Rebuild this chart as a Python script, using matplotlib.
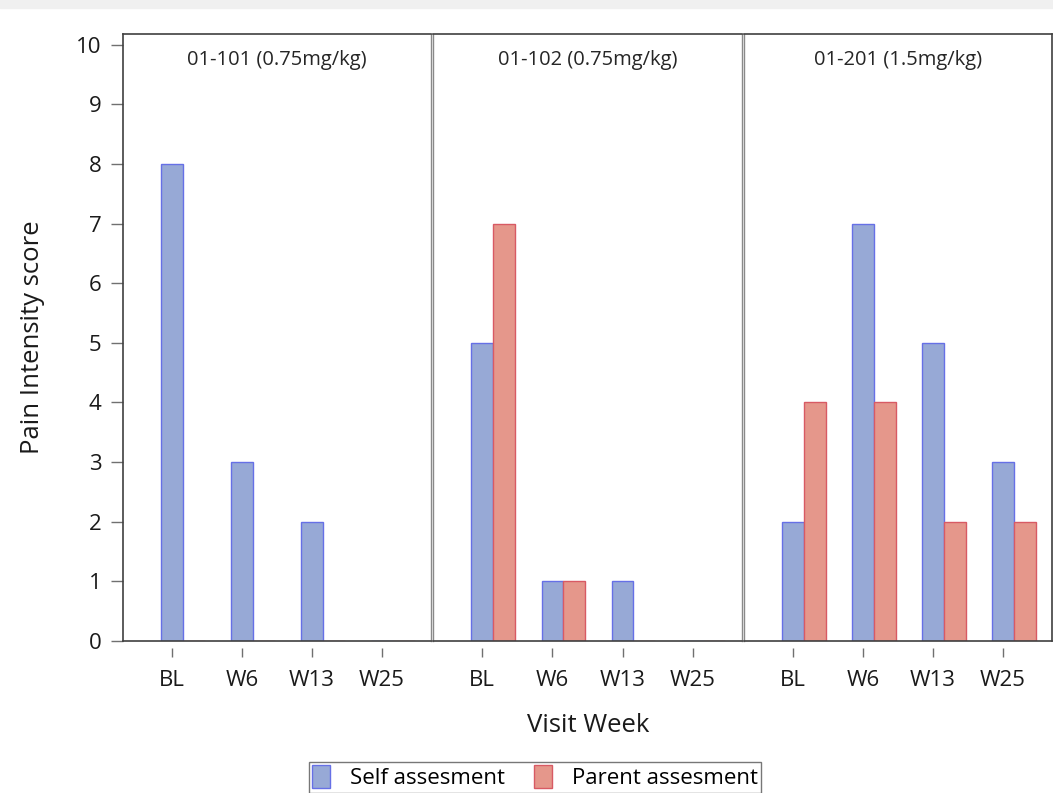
import matplotlib
matplotlib.use("Agg")
import matplotlib.pyplot as plt
from matplotlib.patches import Rectangle, Patch

plt.rcParams["font.family"] = ["Open Sans", "DejaVu Sans"]

# dados
visits = ["BL", "W6", "W13", "W25"]
patients = ["01-101 (0.75mg/kg)", "01-102 (0.75mg/kg)", "01-201 (1.5mg/kg)"]
self_scores = [[8, 3, 2, 0], [5, 1, 1, 0], [2, 7, 5, 3]]
parent_scores = [[0, 0, 0, 0], [7, 1, 0, 0], [4, 4, 2, 2]]

self_fill, self_edge = "#97A9D6", "#6670E6"
parent_fill, parent_edge = "#E5978B", "#D85A64"

W, H = 1053, 793
fig = plt.figure(figsize=(W / 100, H / 100), dpi=100)

# faixa cinza no topo
fig.patches.append(Rectangle((0, 1 - 8 / H), 1, 8 / H, transform=fig.transFigure,
                             color="#F0F0F0", zorder=0))

lefts = [123, 433, 744]
rights = [431, 742, 1052]
top, bottom = 34, 641
bw = 0.31

for k in range(3):
    ax = fig.add_axes([lefts[k] / W, 1 - bottom / H,
                       (rights[k] - lefts[k]) / W, (bottom - top) / H])
    x = range(len(visits))
    ax.bar(x, self_scores[k], width=bw, color=self_fill, edgecolor=self_edge,
           linewidth=1.0, zorder=2)
    ax.bar([i + bw for i in x], parent_scores[k], width=bw, color=parent_fill,
           edgecolor=parent_edge, linewidth=1.0, zorder=2)
    ax.set_xlim(-0.7, 3.7)
    ax.set_ylim(0, 10.18)
    for s in ax.spines.values():
        s.set_color("#404040")
        s.set_linewidth(1.2)
    # bordas internas entre paineis mais claras
    if k > 0:
        ax.spines["left"].set_color("#8A8A8A")
        ax.spines["left"].set_linewidth(1.0)
    if k < 2:
        ax.spines["right"].set_color("#8A8A8A")
        ax.spines["right"].set_linewidth(1.0)
    ax.set_xticks([])
    ax.text(0.5, 0.974, patients[k], transform=ax.transAxes, ha="center",
            va="top", fontsize=14.5, color="#262626")

    # eixo x separado, abaixo do painel
    sec = ax.secondary_xaxis(-0.0115)
    sec.spines["bottom"].set_visible(False)
    sec.set_xticks(list(x))
    sec.set_xticklabels(visits)
    sec.tick_params(axis="x", direction="out", length=6.5, width=1,
                    color="#707070", pad=9.5, labelsize=16, labelcolor="#1A1A1A")

    if k == 0:
        ax.set_yticks(range(0, 11))
        ax.tick_params(axis="y", direction="out", length=8.6, width=1,
                       color="#707070", pad=7, labelsize=16, labelcolor="#1A1A1A")
    else:
        ax.set_yticks([])

fig.text(588 / W, 1 - 725 / H, "Visit Week", ha="center", va="center",
         fontsize=18.5, color="#1A1A1A")
fig.text(33 / W, 1 - 337 / H, "Pain Intensity score", ha="center", va="center",
         rotation=90, fontsize=18.5, color="#1A1A1A")

handles = [Patch(facecolor=self_fill, edgecolor=self_edge, label="Self assesment"),
           Patch(facecolor=parent_fill, edgecolor=parent_edge, label="Parent assesment")]
leg = fig.legend(handles=handles, loc="upper center", ncol=2,
                 bbox_to_anchor=(535 / W, 1 - 762 / H), frameon=True,
                 fancybox=False, edgecolor="#555555", fontsize=16,
                 handlelength=0.8, handleheight=1.2, handletextpad=0.9,
                 columnspacing=1.3, borderaxespad=0, borderpad=0.15)
leg.get_frame().set_linewidth(1.0)

fig.savefig("out.png", dpi=100)
